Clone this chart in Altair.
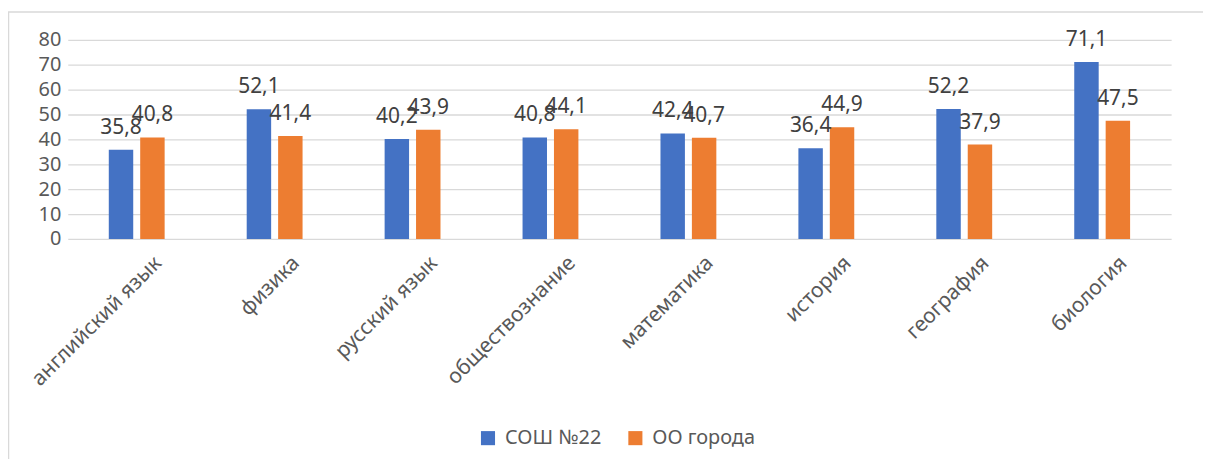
import altair as alt
import pandas as pd

categories = ["английский язык", "физика", "русский язык", "обществознание",
              "математика", "история", "география", "биология"]
series = ["СОШ №22", "ОО города"]
sosh22 = [35.8, 52.1, 40.2, 40.8, 42.4, 36.4, 52.2, 71.1]
oo_goroda = [40.8, 41.4, 43.9, 44.1, 40.7, 44.9, 37.9, 47.5]
y_ticks = [0, 10, 20, 30, 40, 50, 60, 70, 80]
colors = ["#4472C4", "#ED7D31"]

rows = []
for c, a, b in zip(categories, sosh22, oo_goroda):
    rows.append({"cat": c, "series": series[0], "value": a})
    rows.append({"cat": c, "series": series[1], "value": b})
df = pd.DataFrame(rows)

FONT = "Noto Sans"

x_enc = alt.X(
    "cat:N", sort=categories, title=None,
    scale=alt.Scale(range=[-16, 1092], paddingInner=0.595, paddingOuter=0.2975),
    axis=alt.Axis(labelAngle=-45, labelAlign="right", labelBaseline="top",
                  labelFontSize=21, labelColor="#595959", labelFont=FONT,
                  ticks=False, tickSize=0, domain=False, labelPadding=13,
                  labelOffset=14, labelLimit=400),
)
xoff_enc = alt.XOffset("series:N", sort=series,
                       scale=alt.Scale(paddingInner=0.222, paddingOuter=0))
y_enc = alt.Y(
    "value:Q", title=None,
    scale=alt.Scale(domain=[0, 80], nice=False),
    axis=alt.Axis(values=y_ticks, grid=True, gridColor="#d9d9d9", gridWidth=1.3,
                  domain=False, ticks=False, tickSize=0, labelFontSize=20,
                  labelColor="#595959", labelFont=FONT, labelPadding=23),
)

base = alt.Chart(df)

bars = base.mark_bar().encode(
    x=x_enc, xOffset=xoff_enc, y=y_enc,
    color=alt.Color("series:N", sort=series,
                    scale=alt.Scale(domain=series, range=colors),
                    legend=alt.Legend(title=None, orient="none", direction="horizontal",
                                      legendX=396, legendY=390,
                                      symbolType="square", symbolSize=200,
                                      symbolStrokeWidth=0, labelFontSize=20,
                                      labelColor="#595959", labelFont=FONT,
                                      labelOffset=7, columnPadding=24)),
)

labels = base.transform_calculate(
    lab="replace(format(datum.value, '.1f'), '.', ',')"
).mark_text(font=FONT, fontSize=21, color="#404040", baseline="alphabetic", dy=-16).encode(
    x=x_enc, xOffset=xoff_enc, y=y_enc, text="lab:N",
)

frame_df = pd.DataFrame({"k": [0]})
frame = alt.Chart(frame_df).mark_rect(fill="transparent", stroke="#d9d9d9",
                                      strokeWidth=1.5).encode(
    x=alt.value(-75.5), x2=alt.value(1300), y=alt.value(-28), y2=alt.value(600))

chart = alt.layer(frame, bars, labels).properties(
    width=1108, height=200,
    autosize=alt.AutoSizeParams(type="none"),
    padding={"left": 76, "top": 31, "right": 16, "bottom": 220},
).configure(background="white", view=alt.ViewConfig(stroke=None))

chart.save("out.html", embed_options={"renderer": "svg", "actions": False})
